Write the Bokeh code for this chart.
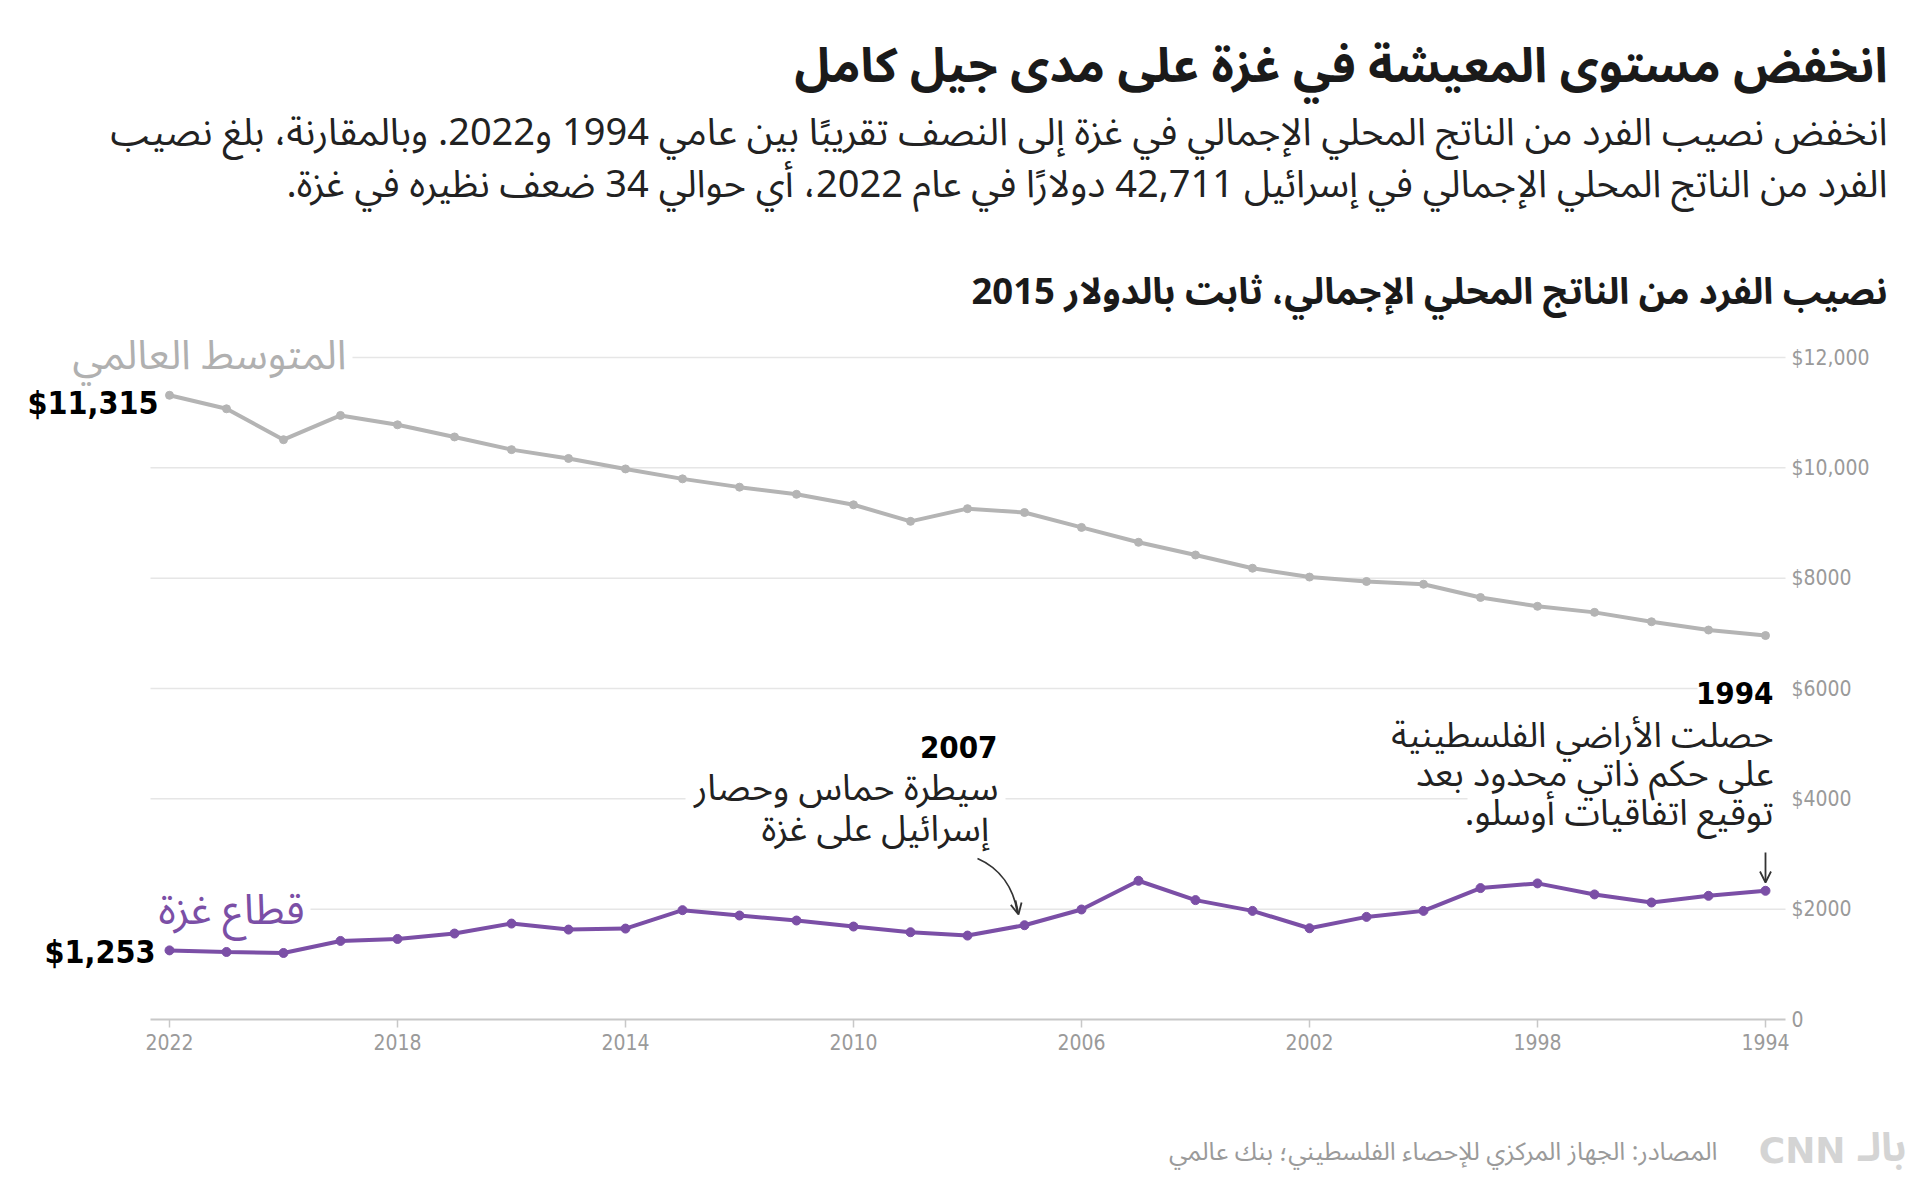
from bokeh.plotting import figure
from bokeh.models import Range1d, FixedTicker, Label, Arrow, OpenHead
from bokeh.embed import file_html
from bokeh.resources import INLINE

# ---------------- data ----------------
years = [2022, 2021, 2020, 2019, 2018, 2017, 2016, 2015, 2014, 2013, 2012, 2011, 2010, 2009, 2008,
         2007, 2006, 2005, 2004, 2003, 2002, 2001, 2000, 1999, 1998, 1997, 1996, 1995, 1994]
world_avg = [11315, 11070, 10510, 10950, 10780, 10560, 10330, 10170, 9980, 9800, 9650, 9520, 9330, 9030, 9260,
             9190, 8920, 8650, 8420, 8180, 8020, 7940, 7890, 7650, 7490, 7380, 7210, 7060, 6960]
gaza = [1253, 1224, 1206, 1424, 1460, 1558, 1739, 1630, 1648, 1982, 1885, 1794, 1685, 1582, 1521,
        1709, 1994, 2515, 2164, 1969, 1654, 1860, 1969, 2382, 2467, 2267, 2121, 2242, 2333]
x_ticks = [2022, 2018, 2014, 2010, 2006, 2002, 1998, 1994]
y_ticks = [0, 2000, 4000, 6000, 8000, 10000, 12000]
y_tick_labels = ["0", "$2000", "$4000", "$6000", "$8000", "$10,000", "$12,000"]

title = "انخفض مستوى المعيشة في غزة على مدى جيل كامل"
subtitle = ["انخفض نصيب الفرد من الناتج المحلي الإجمالي في غزة إلى النصف تقريبًا بين عامي 1994 و2022. وبالمقارنة، بلغ نصيب",
            "الفرد من الناتج المحلي الإجمالي في إسرائيل 42,711 دولارًا في عام 2022، أي حوالي 34 ضعف نظيره في غزة.\u200f"]
chart_title = "نصيب الفرد من الناتج المحلي الإجمالي، ثابت بالدولار 2015"
world_name = "المتوسط العالمي"
gaza_name = "قطاع غزة"
note_2007 = ["سيطرة حماس وحصار", "إسرائيل  على غزة"]
note_1994 = ["حصلت الأراضي الفلسطينية", "على حكم ذاتي محدود بعد", "توقيع اتفاقيات أوسلو.\u200f"]
source = "المصادر: الجهاز المركزي للإحصاء الفلسطيني؛ بنك عالمي"

GRAY = "#b4b4b4"
PURPLE = "#7b4fa6"
AR = "Noto Sans Arabic, DejaVu Sans"
NUM = "DejaVu Sans Condensed"

# ---------------- geometry (page pixels) ----------------
W, H = 1915, 1190
OFF = 0
PX_2022 = 169              # page x of year 2022
PX_YEAR = 57               # px per year
PY_ZERO = 1019             # page y of value 0
PX_PER_2000 = 662 / 6.0    # px per $2000
CHART_L, CHART_R = 150, 1785
# horizontal extents of each gridline (gaps leave room for the labels)
GRID_SPANS = {
    12000: [(352, CHART_R)],
    10000: [(CHART_L, CHART_R)],
    8000: [(CHART_L, CHART_R)],
    6000: [(CHART_L, 1697)],
    4000: [(CHART_L, 685), (1005, 1467)],
    2000: [(310, CHART_R)],
}


def dx(px):  # page px -> data x (years)
    return 2022 - (px - PX_2022) / PX_YEAR


def dy(py):  # page px -> data y (dollars)
    return (PY_ZERO - py) / PX_PER_2000 * 2000


p = figure(width=W, height=H, output_backend="svg", toolbar_location=None,
           x_range=Range1d(dx(OFF), dx(OFF + W)), y_range=Range1d(dy(OFF + H), dy(OFF)),
           y_axis_location="right",
           min_border_left=0, min_border_right=0, min_border_top=0, min_border_bottom=0)
p.outline_line_color = None
p.background_fill_color = "white"
p.border_fill_color = "white"

XL, XR = dx(CHART_L), dx(CHART_R)

# gridlines
gx0, gx1, gy = [], [], []
for val, spans in GRID_SPANS.items():
    for a, b in spans:
        gx0.append(dx(a))
        gx1.append(dx(b))
        gy.append(val)
p.segment(x0=gx0, x1=gx1, y0=gy, y1=gy, line_color="#e6e6e6", line_width=1.5)
p.xgrid.grid_line_color = None
p.ygrid.grid_line_color = None

# axes placed inside the canvas
p.xaxis.fixed_location = 0
p.xaxis.bounds = (min(XL, XR), max(XL, XR))
p.xaxis.ticker = FixedTicker(ticks=x_ticks)
p.xaxis.axis_line_color = "#c8c8c8"
p.xaxis.axis_line_width = 2
p.xaxis.major_tick_line_color = "#c8c8c8"
p.xaxis.major_tick_line_width = 1.5
p.xaxis.major_tick_out = 8
p.xaxis.major_tick_in = 0
p.xaxis.minor_tick_line_color = None
p.xaxis.major_label_text_font = NUM
p.xaxis.major_label_text_font_size = "21px"
p.xaxis.major_label_text_color = "#9a9a9a"
p.xaxis.major_label_standoff = 6

p.yaxis.fixed_location = XR
p.yaxis.bounds = (0, 12000)
p.yaxis.ticker = FixedTicker(ticks=y_ticks)
p.yaxis.major_label_overrides = {t: s for t, s in zip(y_ticks, y_tick_labels)}
p.yaxis.axis_line_color = None
p.yaxis.major_tick_line_color = None
p.yaxis.minor_tick_line_color = None
p.yaxis.major_label_text_font = NUM
p.yaxis.major_label_text_font_size = "21px"
p.yaxis.major_label_text_color = "#9a9a9a"
p.yaxis.major_label_standoff = 0

# series
p.line(years, world_avg, line_color=GRAY, line_width=4)
p.scatter(years, world_avg, size=8, color=GRAY)
p.line(years, gaza, line_color=PURPLE, line_width=4)
p.scatter(years, gaza, size=9, color=PURPLE)


def lab(text, x, y, size, color="#222222", font=AR, bold=False, align="right"):
    lb = Label(x=dx(x), y=dy(y), text=text, text_font=font,
               text_font_size=f"{size}px", text_color=color,
               text_font_style="bold" if bold else "normal",
               text_align=align, text_baseline="middle")
    p.add_layout(lb)
    return lb


# titles
lab(title, 1887, 66, 48, "#1a1a1a", bold=True)
lab(subtitle[0], 1887, 132, 38, "#222222")
lab(subtitle[1], 1887, 184, 38, "#222222")
lab(chart_title, 1887, 292, 36.5, "#1a1a1a", bold=True)

# series labels
lab(world_name, 346, 355, 41, "#b0b0b0")
lab("$11,315", 158, 402, 32, "#000000", font=NUM, bold=True)
lab(gaza_name, 304, 910, 42, PURPLE)
lab("$1,253", 155, 951, 32, "#000000", font=NUM, bold=True)

# 2007 annotation
lab("2007", 997, 746, 31, "#000000", font=NUM, bold=True)
lab(note_2007[0], 998, 788, 36, "#222222")
lab(note_2007[1], 998, 829, 36, "#222222")
p.bezier(x0=[dx(977)], y0=[dy(858)], x1=[dx(1017)], y1=[dy(912)],
         cx0=[dx(1000)], cy0=[dy(868)], cx1=[dx(1013)], cy1=[dy(888)],
         line_color="#333333", line_width=1.8)
p.add_layout(Arrow(end=OpenHead(size=11, line_width=1.8, line_color="#333333"),
                   x_start=dx(1015), y_start=dy(900), x_end=dx(1018), y_end=dy(914),
                   line_color="#333333", line_width=1.8))

# 1994 annotation
lab("1994", 1773, 692, 31, "#000000", font=NUM, bold=True)
lab(note_1994[0], 1773, 735, 35, "#222222")
lab(note_1994[1], 1773, 774, 36, "#222222")
lab(note_1994[2], 1773, 813, 36, "#222222")
p.add_layout(Arrow(end=OpenHead(size=11, line_width=1.8, line_color="#333333"),
                   x_start=dx(1765), y_start=dy(852), x_end=dx(1765), y_end=dy(882),
                   line_color="#333333", line_width=1.8))

# footer
lab(source, 1717, 1151, 25, "#9a9a9a")
lab("بالـ", 1906, 1148, 40, "#d4d4d4", bold=True)
lab("CNN", 1845, 1150, 36, "#d4d4d4", font="DejaVu Sans", bold=True)

open("out.html", "w").write(file_html(p, INLINE))
